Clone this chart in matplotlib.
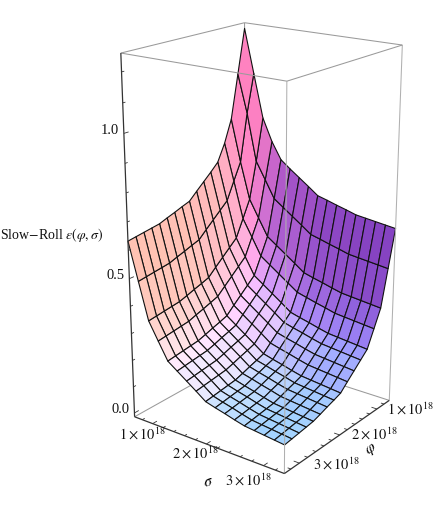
import numpy as np
import matplotlib
matplotlib.use("Agg")
import matplotlib.pyplot as plt
from mpl_toolkits.mplot3d import proj3d

plt.rcParams['font.family'] = ['Liberation Serif', 'DejaVu Serif']
plt.rcParams['mathtext.fontset'] = 'stix'

# ---- data ----
field_range = [0.65e18, 3.35e18]
epsilon_range = [-0.015, 1.26]
phi_values = [0.65, 0.81875, 0.9875, 1.15625, 1.325, 1.49375, 1.6625, 1.83125, 2.0,
              2.16875, 2.3375, 2.50625, 2.675, 2.84375, 3.0125, 3.18125, 3.35]
sigma_values = list(phi_values)
epsilon = [
    [1.24, 1.085, .93, .85, .79, .763, .738, .713, .687, .678, .668, .659, .649, .645, .641, .637, .633],
    [1.085, .95, .78, .718, .655, .63, .605, .58, .554, .545, .535, .526, .516, .512, .508, .504, .50],
    [.93, .78, .648, .585, .523, .498, .473, .448, .422, .412, .403, .393, .384, .38, .376, .372, .368],
    [.85, .718, .585, .523, .46, .435, .41, .385, .36, .35, .34, .331, .321, .317, .313, .309, .305],
    [.79, .655, .523, .46, .398, .373, .348, .323, .297, .287, .278, .268, .259, .255, .251, .247, .243],
    [.763, .63, .498, .435, .373, .348, .323, .298, .272, .262, .253, .243, .234, .23, .226, .222, .218],
    [.738, .605, .473, .41, .348, .323, .298, .273, .247, .237, .228, .218, .209, .205, .201, .197, .193],
    [.713, .58, .448, .385, .323, .298, .273, .248, .222, .212, .203, .193, .184, .18, .176, .172, .168],
    [.687, .554, .422, .36, .297, .272, .247, .222, .196, .186, .177, .167, .158, .154, .15, .146, .142],
    [.678, .545, .412, .35, .287, .262, .237, .212, .186, .177, .167, .158, .148, .144, .14, .136, .132],
    [.668, .535, .403, .34, .278, .253, .228, .203, .177, .167, .158, .148, .139, .135, .131, .127, .123],
    [.659, .526, .393, .331, .268, .243, .218, .193, .167, .158, .148, .139, .129, .125, .121, .117, .113],
    [.649, .516, .384, .321, .259, .234, .209, .184, .158, .148, .139, .129, .12, .116, .112, .108, .104],
    [.645, .512, .38, .317, .255, .23, .205, .18, .154, .144, .135, .125, .116, .112, .108, .104, .10],
    [.641, .508, .376, .313, .251, .226, .201, .176, .15, .14, .131, .121, .112, .108, .104, .10, .096],
    [.637, .504, .372, .309, .247, .222, .197, .172, .146, .136, .127, .117, .108, .104, .10, .096, .092],
    [.633, .50, .368, .305, .243, .218, .193, .168, .142, .132, .123, .113, .104, .10, .096, .092, .088],
]
field_major = [1e18, 2e18, 3e18]
field_labels = [r"$1\times10^{18}$", r"$2\times10^{18}$", r"$3\times10^{18}$"]
field_minor = [x * 1e17 for x in (8, 10, 12, 14, 16, 18, 20, 22, 24, 26, 28, 30, 32)]
eps_major = [0.0, 0.5, 1.0]
eps_major_labels = ["0.0", "0.5", "1.0"]
eps_minor = [0.0, .1, .2, .3, .4, .5, .6, .7, .8, .9, 1.0, 1.1, 1.2]
zlabel_text = r"Slow$-$Roll $\epsilon(\varphi,\sigma)$"

# ---- layout ----
W, H = 437, 512
ELEV, AZIM = 19.99, 36.82
ASPECT = np.array([0.8057, 0.814, 1.6191])
FS = 10.4
AX_PX = 436
fig = plt.figure(figsize=(W / 100, H / 100), dpi=100)
ax = fig.add_axes([39.66 / W, 50.39 / H, AX_PX / W, AX_PX / H], projection='3d', computed_zorder=False)
ax.set_box_aspect(ASPECT, zoom=np.linalg.norm(ASPECT) / (1.8294640721620434 * 25 / 24))
ax.set_proj_type('persp', focal_length=0.5535)
ax.view_init(elev=ELEV, azim=AZIM)
ax.set_xlim(*field_range, view_margin=0)
ax.set_ylim(*field_range, view_margin=0)
ax.set_zlim(*epsilon_range, view_margin=0)
ax.set_axis_off()
ax.patch.set_alpha(0)

P, S = np.meshgrid(np.array(phi_values) * 1e18, np.array(sigma_values) * 1e18, indexing='ij')
Z = np.array(epsilon)

# Mathematica-like default lighting evaluated on the scaled box
fr = field_range[1] - field_range[0]
zr = epsilon_range[1] - epsilon_range[0]
bx = (P - field_range[0]) / fr * ASPECT[0]
by = (S - field_range[0]) / fr * ASPECT[1]
bz = (Z - epsilon_range[0]) / zr * ASPECT[2]
dzx = np.gradient(bz, bx[:, 0], axis=0)
dzy = np.gradient(bz, by[0, :], axis=1)
nrm = np.dstack([-dzx, -dzy, np.ones_like(bz)])
nrm /= np.linalg.norm(nrm, axis=2, keepdims=True)
cnrm = (nrm[:-1, :-1] + nrm[1:, :-1] + nrm[:-1, 1:] + nrm[1:, 1:]) / 4
cnrm /= np.linalg.norm(cnrm, axis=2, keepdims=True)
e, a = np.radians(ELEV), np.radians(AZIM)
right = np.array([-np.sin(a), np.cos(a), 0])
up = np.array([-np.sin(e) * np.cos(a), -np.sin(e) * np.sin(a), np.cos(e)])
back = np.array([np.cos(e) * np.cos(a), np.cos(e) * np.sin(a), np.sin(e)])
nv = np.dstack([cnrm @ right, cnrm @ up, cnrm @ back])
lights = [((1, 0, 1), (0.82, 0, 0)), ((1, 1.3, 0.9), (0, 0.76, 0)), ((0, 1, 1), (0, 0, 0.78))]
rgb = np.zeros(nv.shape) + np.array([0.36, 0.18, 0.30])
for d, c in lights:
    d = np.array(d, float) / np.linalg.norm(d)
    rgb += np.clip(nv @ d, 0, None)[..., None] * np.array(c)
rgb = np.clip(rgb, 0, 1)

GRAY = '#9a9a9a'
DARK = '#333333'
x0, x1 = field_range
z0, z1 = epsilon_range

def seg(p, q, color=GRAY, lw=0.75, zo=3):
    ax.plot([p[0], q[0]], [p[1], q[1]], [p[2], q[2]], color=color, lw=lw, zorder=zo,
            solid_capstyle='butt', clip_on=False)

# hidden (rear) box edges
seg((x0, x0, z0), (x0, x0, z1), zo=1)
seg((x0, x0, z0), (x1, x0, z0), zo=1)
seg((x0, x0, z0), (x0, x1, z0), zo=1)
seg((x0, x0, z1), (x1, x0, z1), zo=1)
seg((x0, x0, z1), (x0, x1, z1), zo=1)

surf = ax.plot_surface(P, S, Z, rstride=1, cstride=1, facecolors=rgb, shade=False,
                       edgecolor='#111111', linewidth=0.8, antialiased=True, zorder=2)
surf.set_clip_on(False)

# front box edges
seg((x1, x1, z0), (x1, x1, z1), color='#b0b0b0')
seg((x0, x1, z0), (x0, x1, z1), color='#b0b0b0')
seg((x1, x1, z1), (x1, x0, z1))
seg((x1, x1, z1), (x0, x1, z1))
# dark framed axes
seg((x1, x0, z0), (x1, x0, z1), color=DARK, lw=0.9)
seg((x1, x0, z0), (x1, x1, z0), color=DARK, lw=0.9)
seg((x1, x1, z0), (x0, x1, z0), color=DARK, lw=0.9)

# ticks
for t in field_minor:
    L = 0.035 if t in field_major else 0.02
    seg((x1, t, z0), (x1 - L * fr, t, z0), color=DARK, lw=0.6)
    seg((t, x1, z0), (t, x1 - L * fr, z0), color=DARK, lw=0.6)
for t in eps_minor:
    L = 0.035 if t in eps_major else 0.02
    seg((x1, x0, t), (x1 - L * fr, x0, t), color=DARK, lw=0.6)

M = ax.get_proj()
def label(x, y, z, txt, dx, dy, ha='center'):
    px, py, _ = proj3d.proj_transform(x, y, z, M)
    ax.annotate(txt, xy=(px, py), xycoords='data', xytext=(dx, dy), textcoords='offset pixels',
                ha=ha, va='center', fontsize=FS, color='#111111', annotation_clip=False)

for t, s, dx, dy in zip(field_major, field_labels, (-10, -11, -15), (-11, -10, -15)):
    label(x1, t, z0, s, dx, dy)
for t, s, dx, dy in zip(field_major, field_labels, (33, 35, 37), (0, 0, -1)):
    label(t, x1, z0, s, dx, dy)
for t, s in zip(eps_major, eps_major_labels):
    label(x1, x0, t, s, -5, 3, ha='right')

fig.text(0 / W, 1 - 235 / H, zlabel_text, fontsize=10, ha='left', va='center', color='#111111')
fig.text(208 / W, 1 - 482 / H, r"$\sigma$", fontsize=FS + 1, ha='center', va='center', rotation=15)
fig.text(371 / W, 1 - 449 / H, r"$\varphi$", fontsize=FS + 1, ha='center', va='center', rotation=35)

fig.savefig('out.png', dpi=100)
